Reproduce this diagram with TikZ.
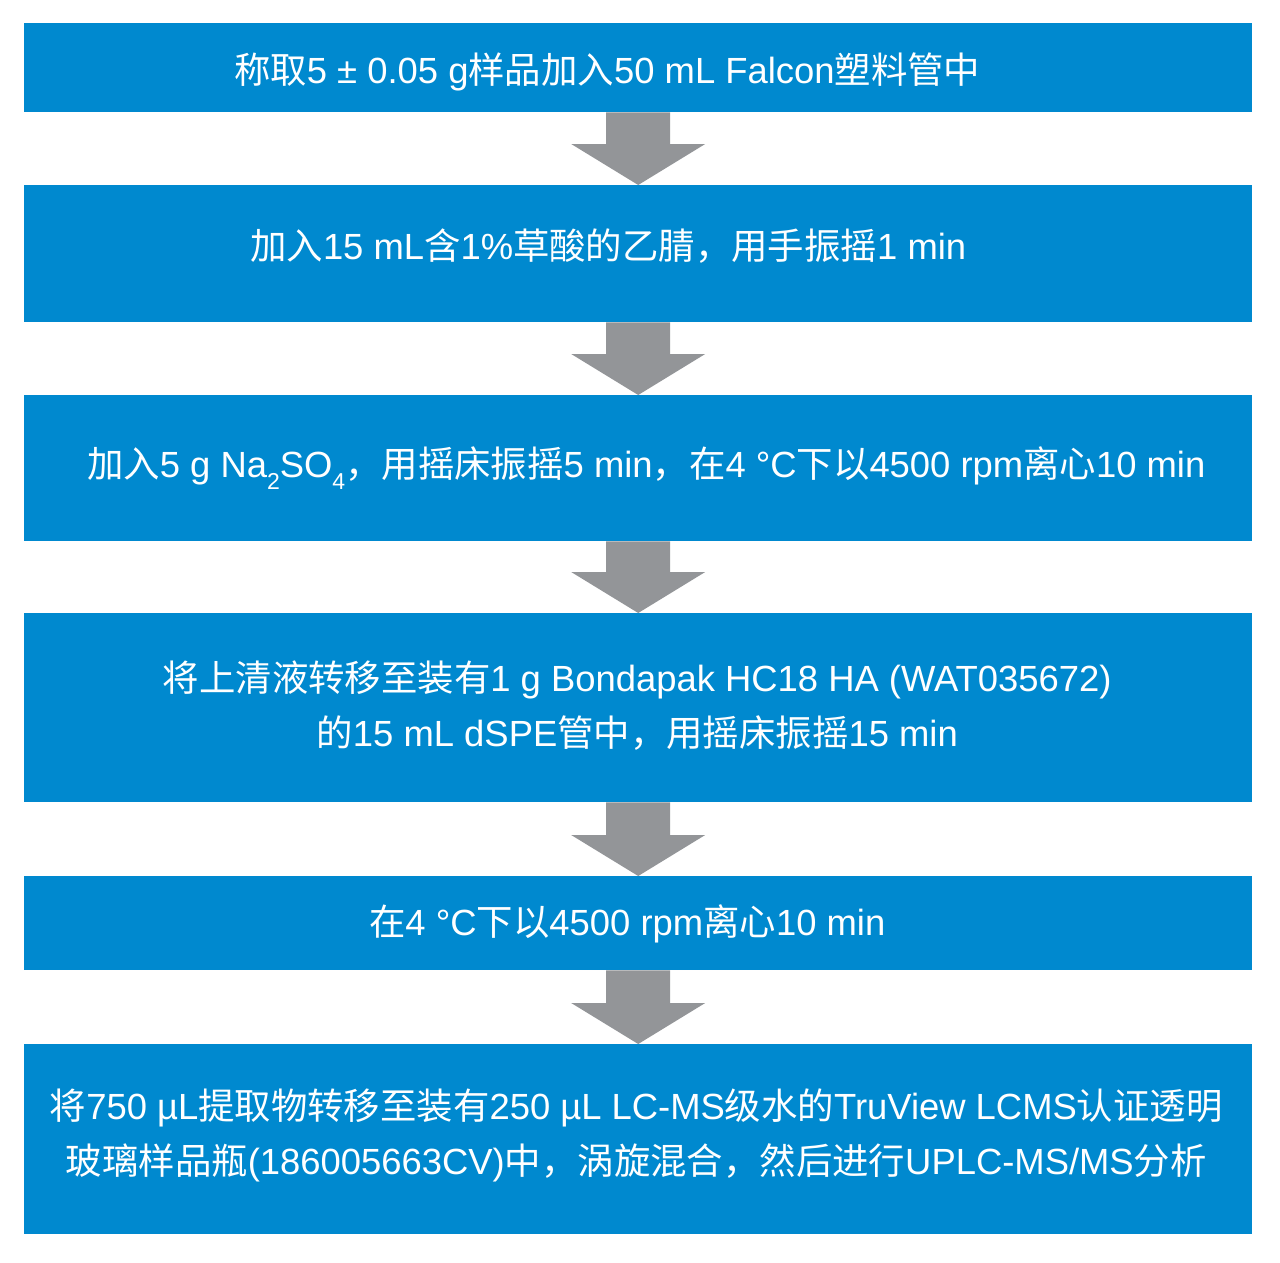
\documentclass[tikz,border=0pt]{standalone}
\usepackage{fontspec}
\setmainfont{Liberation Sans}
\newfontfamily\cjk{Noto Sans CJK SC}
\usetikzlibrary{calc}
\newcommand\zh[1]{{\cjk #1}}
\newcommand\sbs[1]{\raisebox{-0.32em}{\fontsize{23}{23}\selectfont #1}}
\definecolor{boxblue}{RGB}{0,137,207}
\definecolor{arrowgray}{RGB}{147,149,152}
\tikzset{
  stepbox/.style={rectangle, fill=boxblue, draw=none, minimum width=1228pt, inner sep=0pt, anchor=north west},
  steptext/.style={text=white, align=center, inner sep=0pt, font=\fontsize{36.4}{55}\selectfont},
}
\newcommand\flowarrow[2]{%
  \fill[arrowgray] ($(#1.south)+(-32,0)$) -- ($(#1.south)+(32,0)$) -- ($(#2.north)+(32,-41)$) -- ($(#2.north)+(67,-41)$) -- (#2.north) -- ($(#2.north)+(-67,-41)$) -- ($(#2.north)+(-32,-41)$) -- cycle;}
\begin{document}
\begin{tikzpicture}[x=1pt,y=-1pt]
\useasboundingbox (0,0) rectangle (1280,1262);
\node[stepbox, minimum height=89pt]  (b1) at (24,23) {};
\node[stepbox, minimum height=137pt] (b2) at (24,185) {};
\node[stepbox, minimum height=146pt] (b3) at (24,395) {};
\node[stepbox, minimum height=189pt] (b4) at (24,613) {};
\node[stepbox, minimum height=94pt]  (b5) at (24,876) {};
\node[stepbox, minimum height=190pt] (b6) at (24,1044) {};
\flowarrow{b1}{b2}
\flowarrow{b2}{b3}
\flowarrow{b3}{b4}
\flowarrow{b4}{b5}
\flowarrow{b5}{b6}
\node[steptext] (t1) at ($(b1.center)+(-31,4)$) {\zh{称取}5 ± 0.05 g\zh{样品加入}50 mL Falcon\zh{塑料管中}};
\node[steptext] (t2) at ($(b2.center)+(-30,-8)$) {\zh{加入}15 mL\zh{含}1\%\zh{草酸的乙腈，用手振摇}1 min};
\node[steptext] (t3) at ($(b3.center)+(8,0)$) {\zh{加入}5 g Na\sbs{2}SO\sbs{4}\zh{，用摇床振摇}5 min\zh{，在}4 °C\zh{下以}4500 rpm\zh{离心}10 min};
\node[steptext] (t4) at ($(b4.center)+(-1,-2)$) {\zh{将上清液转移至装有}1 g Bondapak HC18 HA (WAT035672)\\\zh{的}15 mL dSPE\zh{管中，用摇床振摇}15 min};
\node[steptext] (t5) at ($(b5.center)+(-11,1)$) {\zh{在}4 °C\zh{下以}4500 rpm\zh{离心}10 min};
\node[steptext] (t6) at ($(b6.center)+(-2,-4)$) {\zh{将}750 µL\zh{提取物转移至装有}250 µL LC-MS\zh{级水的}TruView LCMS\zh{认证透明}\\\zh{玻璃样品瓶}(186005663CV)\zh{中，涡旋混合，然后进行}UPLC-MS/MS\zh{分析}};
\end{tikzpicture}
\end{document}
